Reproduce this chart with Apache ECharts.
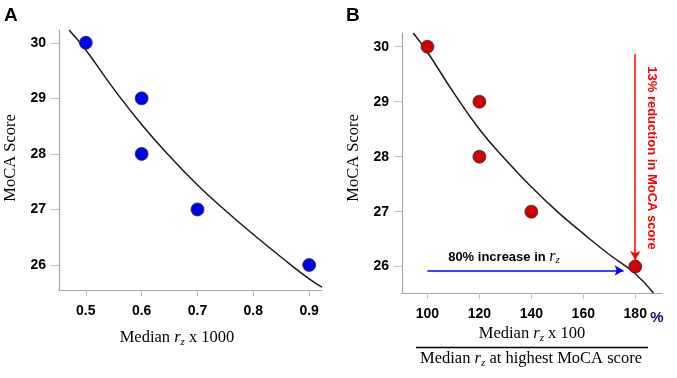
<!DOCTYPE html>
<html><head><meta charset="utf-8">
<script src="https://cdn.jsdelivr.net/npm/echarts@6/dist/echarts.min.js"></script>
<style>html,body{margin:0;padding:0;background:#fff}#c{width:677px;height:378px}</style>
</head><body><div id="c"></div>
<script>
// Panel A data
const rzA = [0.5, 0.6, 0.6, 0.7, 0.9];
const mocaA = [30, 29, 28, 27, 26];
const curveAx = [0.47, 0.5, 0.55, 0.6, 0.65, 0.7, 0.75, 0.8, 0.85, 0.9, 0.923];
const curveAy = [30.23, 29.87, 29.17, 28.53, 27.96, 27.44, 26.98, 26.55, 26.14, 25.75, 25.6];
const ticksA = [0.5, 0.6, 0.7, 0.8, 0.9];
// Panel B data
const rzB = [100, 120, 120, 140, 180];
const mocaB = [30, 29, 28, 27, 26];
const curveBx = [94.5, 100, 110, 120, 130, 140, 150, 160, 170, 180, 187];
const curveBy = [30.25, 29.9, 29.17, 28.5, 27.95, 27.45, 27.0, 26.6, 26.22, 25.87, 25.52];
const ticksB = [100, 120, 140, 160, 180];
const ticksY = [26, 27, 28, 29, 30];
const arrowBlue = [[100, 25.93], [175.5, 25.93]];
const arrowRed = [[180, 29.87], [180, 26.12]];

const serif = '"Liberation Serif", "DejaVu Serif", serif';
const sans = '"Liberation Sans", Arial, sans-serif';
const axColor = '#a6a6a6';

function xAxis(idx, min, max, ticks) {
  return {
    type: 'value', gridIndex: idx, min: min, max: max,
    axisLine: {show: true, lineStyle: {color: axColor, width: 1.2}},
    axisTick: {show: true, customValues: ticks, length: 6, lineStyle: {color: '#c0c0c0'}},
    axisLabel: {customValues: ticks, margin: 14, color: '#000', fontFamily: sans, fontWeight: 'bold', fontSize: 14},
    splitLine: {show: false}
  };
}
function yAxis(idx, min, max) {
  return {
    type: 'value', gridIndex: idx, min: min, max: max,
    axisLine: {show: true, lineStyle: {color: axColor, width: 1.2}},
    axisTick: {show: true, customValues: ticksY, length: 8, lineStyle: {color: '#c0c0c0'}},
    axisLabel: {customValues: ticksY, margin: 13, color: '#000', fontFamily: sans, fontWeight: 'bold', fontSize: 14},
    splitLine: {show: false}
  };
}
const zip = (a, b) => a.map((v, i) => [v, b[i]]);

const richSub = {
  n: {fontFamily: serif, fontSize: 16.5, color: '#000', lineHeight: 20, verticalAlign: 'middle'},
  i: {fontFamily: serif, fontSize: 16.5, fontStyle: 'italic', color: '#000', lineHeight: 20, verticalAlign: 'middle'},
  s: {fontFamily: serif, fontSize: 11, fontStyle: 'italic', color: '#000', lineHeight: 12, verticalAlign: 'bottom'}
};
const richBlue = {
  n: {fontFamily: sans, fontSize: 13, fontWeight: 'bold', color: '#0000ff', lineHeight: 18, verticalAlign: 'middle'},
  i: {fontFamily: serif, fontSize: 16, fontStyle: 'italic', color: '#0000ff', lineHeight: 18, verticalAlign: 'middle'},
  s: {fontFamily: serif, fontSize: 11, fontStyle: 'italic', color: '#0000ff', lineHeight: 11, verticalAlign: 'bottom'}
};

const chart = echarts.init(document.getElementById('c'), null, {renderer: 'canvas'});
chart.setOption({
  animation: false,
  grid: [
    {left: 59, top: 30, width: 263, height: 260},
    {left: 402, top: 33, width: 260, height: 260}
  ],
  xAxis: [xAxis(0, 0.452, 0.923, ticksA), xAxis(1, 90.2, 190.3, ticksB)],
  yAxis: [yAxis(0, 25.55, 30.23), yAxis(1, 25.52, 30.25)],
  series: [
    {type: 'line', xAxisIndex: 0, yAxisIndex: 0, data: zip(curveAx, curveAy), smooth: true, symbol: 'none',
     lineStyle: {color: '#1a1a1a', width: 1.5}, z: 2},
    {type: 'scatter', xAxisIndex: 0, yAxisIndex: 0, data: zip(rzA, mocaA), symbolSize: 13,
     itemStyle: {color: '#0000f0', borderColor: '#333', borderWidth: 0.8, opacity: 1}, z: 3},
    {type: 'line', xAxisIndex: 1, yAxisIndex: 1, data: zip(curveBx, curveBy), smooth: true, symbol: 'none',
     lineStyle: {color: '#1a1a1a', width: 1.5}, z: 2},
    {type: 'scatter', xAxisIndex: 1, yAxisIndex: 1, data: zip(rzB, mocaB), symbolSize: 13,
     itemStyle: {color: '#d00000', borderColor: '#333', borderWidth: 0.8, opacity: 1}, z: 3,
     markLine: {
       silent: true, symbol: ['none', 'arrow'], symbolSize: [8, 9], animation: false,
       label: {show: false},
       data: [
         [{coord: arrowBlue[0], lineStyle: {color: '#0000ff', width: 1.5, type: 'solid'}}, {coord: arrowBlue[1]}],
         [{coord: arrowRed[0], lineStyle: {color: '#ff0000', width: 1.5, type: 'solid'}}, {coord: arrowRed[1]}]
       ]
     }}
  ],
  graphic: [
    {type: 'text', left: 4, top: 6, style: {text: 'A', font: 'bold 19px ' + sans, fill: '#000'}},
    {type: 'text', left: 346, top: 6, style: {text: 'B', font: 'bold 19px ' + sans, fill: '#000'}},
    {type: 'text', x: 11, y: 158, rotation: Math.PI / 2, style: {text: 'MoCA Score', font: '16.5px ' + serif, fill: '#000', align: 'center', verticalAlign: 'middle'}},
    {type: 'text', x: 354, y: 158, rotation: Math.PI / 2, style: {text: 'MoCA Score', font: '16.5px ' + serif, fill: '#000', align: 'center', verticalAlign: 'middle'}},
    {type: 'text', x: 177, y: 338, style: {text: '{n|Median }{i|r}{s|z}{n| x 1000}', rich: richSub, align: 'center', verticalAlign: 'middle'}},
    {type: 'text', x: 532, y: 334, style: {text: '{n|Median }{i|r}{s|z}{n| x 100}', rich: richSub, align: 'center', verticalAlign: 'middle'}},
    {type: 'line', shape: {x1: 416, y1: 347.5, x2: 648, y2: 347.5}, style: {stroke: '#000', lineWidth: 1.5}},
    {type: 'text', x: 531, y: 359, style: {text: '{n|Median }{i|r}{s|z}{n| at highest MoCA score}', rich: richSub, align: 'center', verticalAlign: 'middle'}},
    {type: 'text', x: 657, y: 318, style: {text: '%', font: 'bold 15px ' + sans, fill: '#0a0a70', align: 'center', verticalAlign: 'middle'}},
    {type: 'text', x: 504, y: 257, style: {text: '{n|80% increase in }{i|r}{s|z}', rich: richBlue, align: 'center', verticalAlign: 'middle'}},
    {type: 'text', x: 652, y: 158, rotation: -Math.PI / 2, style: {text: '13% reduction in MoCA score', font: 'bold 13px ' + sans, fill: '#ff0000', align: 'center', verticalAlign: 'middle'}}
  ]
});
</script></body></html>
